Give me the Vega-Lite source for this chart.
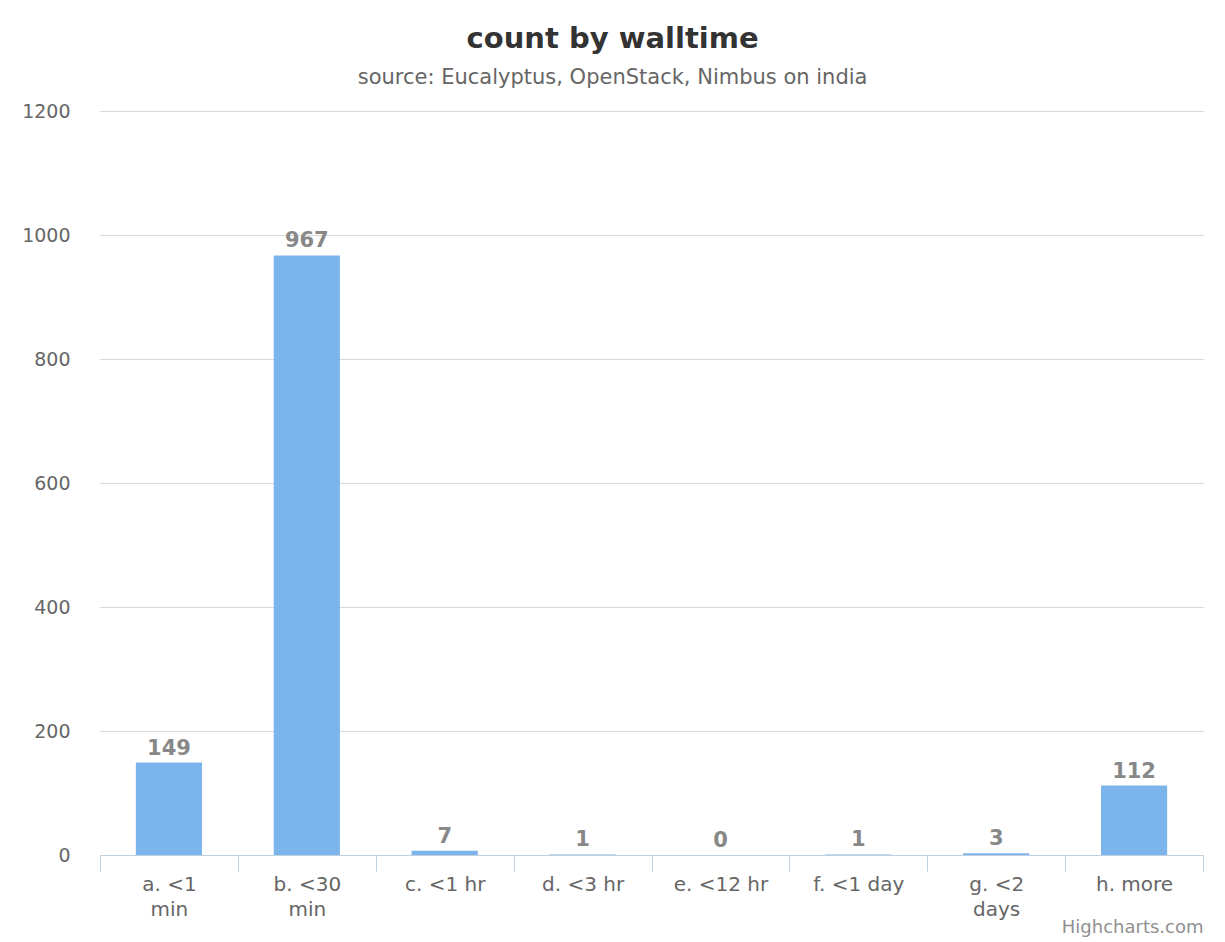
{
  "$schema": "https://vega.github.io/schema/vega-lite/v6.json",
  "width": 1103,
  "height": 744,
  "autosize": {"type": "none"},
  "padding": {"left": 100, "top": 111, "right": 22, "bottom": 87},
  "background": "white",
  "title": {
    "text": "count by walltime",
    "subtitle": "source: Eucalyptus, OpenStack, Nimbus on india",
    "anchor": "middle",
    "frame": "bounds",
    "font": "DejaVu Sans",
    "fontSize": 29,
    "fontWeight": "bold",
    "color": "#333333",
    "subtitleFont": "DejaVu Sans",
    "subtitleFontSize": 21,
    "subtitleColor": "#666666",
    "subtitlePadding": 13,
    "offset": 14
  },
  "data": {
    "values": [
      {"walltime": "a. <1 min", "count": 149},
      {"walltime": "b. <30 min", "count": 967},
      {"walltime": "c. <1 hr", "count": 7},
      {"walltime": "d. <3 hr", "count": 1},
      {"walltime": "e. <12 hr", "count": 0},
      {"walltime": "f. <1 day", "count": 1},
      {"walltime": "g. <2 days", "count": 3},
      {"walltime": "h. more", "count": 112}
    ]
  },
  "encoding": {
    "x": {
      "field": "walltime",
      "type": "nominal",
      "sort": null,
      "scale": {"paddingInner": 0, "paddingOuter": 0},
      "axis": {
        "title": "Highcharts.com",
        "titleAnchor": "end",
        "titleAlign": "right",
        "titleFont": "DejaVu Sans",
        "titleFontSize": 18,
        "titleFontWeight": "normal",
        "titleColor": "#909090",
        "titlePadding": -1,
        "labelAngle": 0,
        "labelFont": "DejaVu Sans",
        "labelFontSize": 20,
        "labelColor": "#666666",
        "labelPadding": 3,
        "labelLineHeight": 25,
        "labelExpr": "datum.value == 'a. <1 min' ? ['a. <1', 'min'] : datum.value == 'b. <30 min' ? ['b. <30', 'min'] : datum.value == 'g. <2 days' ? ['g. <2', 'days'] : datum.label",
        "domainColor": "#C0D0E0",
        "tickColor": "#C0D0E0",
        "tickSize": 16,
        "tickBand": "extent",
        "grid": false
      }
    },
    "y": {
      "field": "count",
      "type": "quantitative",
      "scale": {"domain": [0, 1200], "nice": false},
      "axis": {
        "title": null,
        "values": [0, 200, 400, 600, 800, 1000, 1200],
        "format": "d",
        "grid": true,
        "gridColor": "#D8D8D8",
        "domain": false,
        "ticks": false,
        "tickSize": 0,
        "labelPadding": 30,
        "labelFont": "DejaVu Sans",
        "labelFontSize": 19,
        "labelColor": "#666666"
      }
    }
  },
  "layer": [
    {"mark": {"type": "bar", "color": "#7CB5EC", "width": {"band": 0.48}}},
    {
      "mark": {"type": "text", "dy": -14, "font": "DejaVu Sans", "fontSize": 21, "fontWeight": "bold", "color": "#888888"},
      "encoding": {"text": {"field": "count", "type": "quantitative"}}
    }
  ],
  "config": {"view": {"stroke": null}, "font": "DejaVu Sans"}
}
